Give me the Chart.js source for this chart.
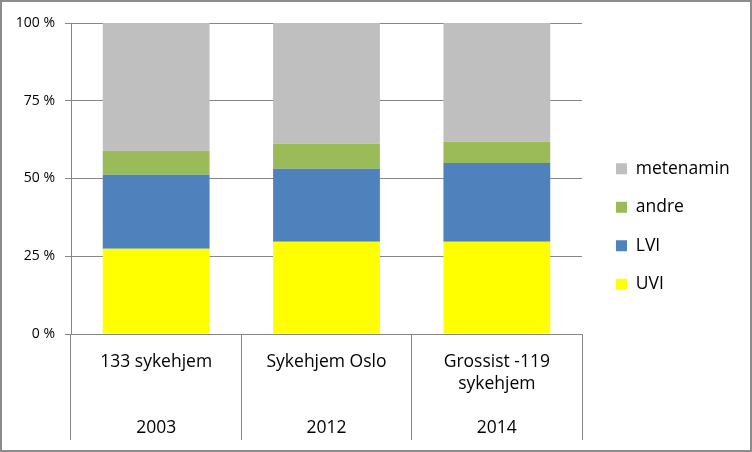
<!DOCTYPE html>
<html>
<head>
<meta charset="utf-8">
<script src="https://cdn.jsdelivr.net/npm/chart.js@4.4.0/dist/chart.umd.min.js"></script>
<style>
  body { margin: 0; background: #fff; }
  #boks { width: 748px; height: 448px; border: 2px solid #8c8c8c; position: relative; }
</style>
</head>
<body>
<div id="boks"><canvas id="grafik" width="748" height="448"></canvas></div>
<script>
// kategorier (navn + årstall)
const kategorier = [
  ["133 sykehjem", "", "", "2003"],
  ["Sykehjem Oslo", "", "", "2012"],
  ["Grossist -119", "sykehjem", "", "2014"]
];

// andeler i prosent
const uvi       = [27.4, 29.7, 29.7];
const lvi       = [23.8, 23.4, 25.3];
const andre     = [7.7, 8.1, 6.8];
const metenamin = [41.1, 38.8, 38.2];

const yTikker = [0, 25, 50, 75, 100];

const skrift = "'Open Sans', sans-serif";
const strek = "#868686";

// tom akse som bare gir luft
const luft = (h, w) => ({
  type: "linear",
  display: true,
  grid: { display: false },
  border: { display: false },
  ticks: { display: false },
  afterFit: s => { if (h) s.height = h; if (w) s.width = w; }
});

// fast bredde på legenden
const legendeBredde = {
  id: "legendeBredde",
  afterInit(chart) {
    const lg = chart.legend;
    const fit = lg.fit.bind(lg);
    lg.fit = function () { fit(); this.width = 151; };
  }
};

const graf = new Chart(document.getElementById("grafik"), {
  type: "bar",
  data: {
    labels: kategorier,
    datasets: [
      { label: "UVI", data: uvi, backgroundColor: "#FFFF00" },
      { label: "LVI", data: lvi, backgroundColor: "#4F81BD" },
      { label: "andre", data: andre, backgroundColor: "#9BBB59" },
      { label: "metenamin", data: metenamin, backgroundColor: "#BFBFBF" }
    ]
  },
  plugins: [legendeBredde],
  options: {
    responsive: false,
    animation: false,
    layout: { padding: { top: 11, right: 4, bottom: 10, left: 0 } },
    datasets: { bar: { barPercentage: 0.627, categoryPercentage: 1 } },
    plugins: {
      tooltip: { enabled: false },
      legend: {
        position: "right",
        reverse: true,
        labels: {
          font: { family: skrift, size: 17.5 },
          color: "#000",
          boxWidth: 11,
          boxHeight: 11,
          padding: 21
        }
      }
    },
    scales: {
      x: {
        stacked: true,
        afterFit: s => { s.height = 106; },
        grid: {
          offset: true,
          drawOnChartArea: false,
          tickLength: 106,
          color: strek
        },
        border: { color: strek },
        ticks: {
          color: "#000",
          font: { family: skrift, size: 17.5, lineHeight: "22px" },
          padding: -89,
          maxRotation: 0,
          autoSkip: false
        }
      },
      y: {
        stacked: true,
        min: 0,
        max: 100,
        afterFit: s => { s.width = 69; },
        afterBuildTicks: s => { s.ticks = yTikker.map(v => ({ value: v })); },
        grid: { color: strek, tickLength: 6 },
        border: { color: strek },
        ticks: {
          color: "#000",
          font: { family: skrift, size: 14 },
          padding: 10,
          callback: v => v + " %"
        }
      },
      topp: Object.assign(luft(10, 0), { position: "top", axis: "x" }),
      gap: Object.assign(luft(0, 13), { position: "right", axis: "y" })
    }
  }
});
</script>
</body>
</html>
